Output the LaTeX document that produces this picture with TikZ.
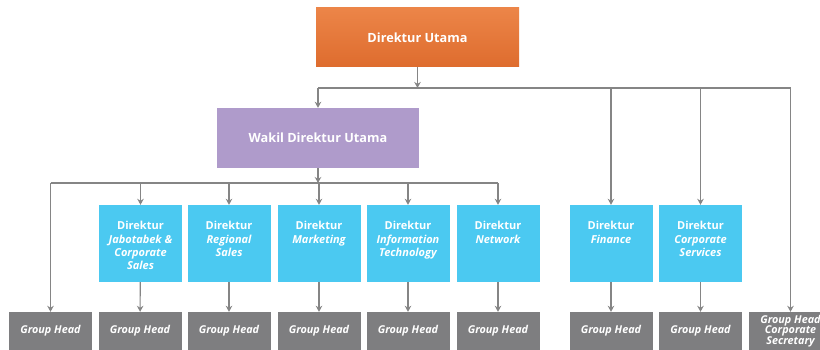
\documentclass[tikz,border=0pt]{standalone}
\usepackage{fontspec}
\setmainfont{Open Sans}
\usetikzlibrary{positioning,arrows.meta}

\definecolor{utamaTop}{HTML}{EC8548}
\definecolor{utamaBot}{HTML}{DE6C2E}
\definecolor{wakilPurple}{HTML}{AF9BCB}
\definecolor{dirBlue}{HTML}{4BC9F1}
\definecolor{headGray}{HTML}{7E7E80}
\definecolor{lineGray}{HTML}{858585}

\begin{document}
\begin{tikzpicture}[x=1pt, y=-1pt,
    utamabox/.style={rectangle, inner sep=0pt, top color=utamaTop, bottom color=utamaBot,
        minimum width=203pt, minimum height=59pt, text=white,
        font=\fontsize{12.7}{15}\selectfont\bfseries},
    wakilbox/.style={rectangle, inner sep=0pt, fill=wakilPurple,
        minimum width=202pt, minimum height=60pt, text=white,
        font=\fontsize{12.7}{15}\selectfont\bfseries},
    dirbox/.style={rectangle, inner sep=0pt, fill=dirBlue,
        minimum width=83pt, minimum height=77pt},
    dirtext/.style={anchor=north, inner sep=0pt, align=center, text=white,
        font=\fontsize{11}{13.3}\selectfont\bfseries\itshape},
    headbox/.style={rectangle, inner sep=0pt, fill=headGray,
        minimum width=83pt, minimum height=38pt, text=white, align=center,
        font=\fontsize{10.8}{10.6}\selectfont\bfseries\itshape},
    bus/.style={draw=lineGray, line width=1.1pt},
    conn/.style={bus, -{Stealth[length=6pt, width=6.5pt]}}]
    \clip (0,0) rectangle (820,350);
    \fill[white] (0,0) rectangle (820,350);
    % Top level
    \node[utamabox] (utama) at (417.5,37.5) {Direktur Utama};
    \node[wakilbox] (wakil) at (318,138) {Wakil Direktur Utama};
    % Directors
    \foreach \name/\x/\txt in {jabo/140.5/{Jabotabek \&\\Corporate\\Sales},
                               regional/229/{Regional\\Sales},
                               marketing/319/{Marketing},
                               it/408/{Information\\Technology},
                               network/498/{Network},
                               finance/611/{Finance},
                               corpserv/700.5/{Corporate\\Services}} {
        \node[dirbox] (\name) at (\x,243.5) {};
        \node[dirtext, yshift=-16.5pt] (\name-txt) at (\name.north) {{\upshape Direktur}\\\txt};
    }
    % Group heads
    \foreach \name/\x in {umum/50.5, jabo/140, regional/229, marketing/319, it/408,
                          network/498, finance/611, corpserv/700.5} {
        \node[headbox] (gh-\name) at (\x,331) {Group Head};
    }
    \node[headbox] (gh-corpsec) at (790.5,331) {Group Head\\Corporate\\Secretary};
    % Lines from Direktur Utama
    \coordinate (utama-bus) at (417.5,88);
    \draw[conn] (utama) -- (utama-bus);
    \draw[bus] (wakil.north |- utama-bus) -- (gh-corpsec.north |- utama-bus);
    \foreach \d in {wakil, finance, corpserv, gh-corpsec} {
        \draw[conn] (\d.north |- utama-bus) -- (\d);
    }
    % Lines from Wakil Direktur Utama
    \coordinate (wakil-bus) at (318,183);
    \draw[conn] (wakil) -- (wakil-bus);
    \draw[bus] (gh-umum.north |- wakil-bus) -- (network.north |- wakil-bus);
    \foreach \d in {gh-umum, jabo, regional, marketing, it, network} {
        \draw[conn] (\d.north |- wakil-bus) -- (\d);
    }
    % Directors to group heads
    \foreach \d in {jabo, regional, marketing, it, network, finance, corpserv} {
        \draw[conn] (\d) -- (gh-\d);
    }
\end{tikzpicture}
\end{document}
